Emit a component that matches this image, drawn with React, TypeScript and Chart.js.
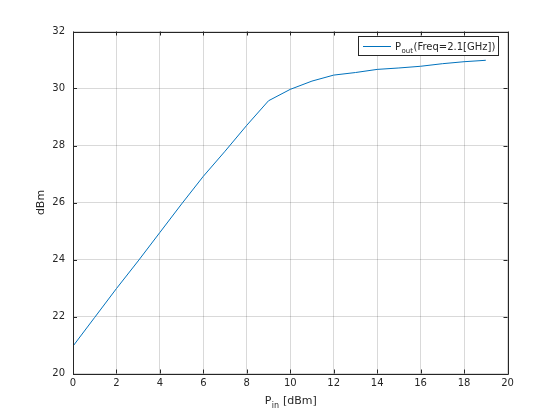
import React, { useEffect, useRef } from 'react';
import { Chart, registerables } from 'chart.js';

Chart.register(...registerables);

const pinValues = [0, 1, 2, 3, 4, 5, 6, 7, 8, 9, 10, 11, 12, 13, 14, 15, 16, 17, 18, 19];
const poutValues = [20.96, 21.97, 22.98, 23.95, 24.95, 25.95, 26.92, 27.8, 28.71, 29.57, 29.97, 30.26, 30.47, 30.56, 30.67, 30.72, 30.78, 30.87, 30.94, 30.99];
const xTickValues = [0, 2, 4, 6, 8, 10, 12, 14, 16, 18, 20];
const yTickValues = [20, 22, 24, 26, 28, 30, 32];
const legendMain = 'P';
const legendSub = 'out';
const legendRest = '(Freq=2.1[GHz])';
const xTitleMain = 'P';
const xTitleSub = 'in';
const xTitleRest = ' [dBm]';
const yTitle = 'dBm';

const FONT = '"DejaVu Sans", sans-serif';
const AXIS_COLOR = '#262626';
const LINE_COLOR = '#0072BD';

const decorPlugin = {
  id: 'decor',
  afterDraw(chart: any) {
    const ctx = chart.ctx as CanvasRenderingContext2D;
    const { left, right, top, bottom } = chart.chartArea;
    const xs = chart.scales.x;
    const ys = chart.scales.y;
    ctx.save();
    ctx.strokeStyle = AXIS_COLOR;
    ctx.lineWidth = 1;
    // box
    ctx.beginPath();
    ctx.rect(Math.round(left) + 0.5, Math.round(top) + 0.5, Math.round(right - left), Math.round(bottom - top));
    ctx.stroke();
    // inward ticks
    const tl = 4;
    ctx.beginPath();
    xTickValues.forEach((v) => {
      const px = Math.round(xs.getPixelForValue(v)) + 0.5;
      ctx.moveTo(px, bottom);
      ctx.lineTo(px, bottom - tl);
      ctx.moveTo(px, top);
      ctx.lineTo(px, top + tl);
    });
    yTickValues.forEach((v) => {
      const py = Math.round(ys.getPixelForValue(v)) + 0.5;
      ctx.moveTo(left, py);
      ctx.lineTo(left + tl, py);
      ctx.moveTo(right, py);
      ctx.lineTo(right - tl, py);
    });
    ctx.stroke();

    // x title with subscript
    ctx.fillStyle = AXIS_COLOR;
    ctx.textBaseline = 'alphabetic';
    ctx.textAlign = 'left';
    const mainFont = '11px ' + FONT;
    const subFont = '8px ' + FONT;
    ctx.font = mainFont;
    const wMain = ctx.measureText(xTitleMain).width;
    const wRest = ctx.measureText(xTitleRest).width;
    ctx.font = subFont;
    const wSub = ctx.measureText(xTitleSub).width;
    const total = wMain + wSub + wRest;
    const cx = (left + right) / 2;
    let x0 = cx - total / 2;
    const by = 404;
    ctx.font = mainFont;
    ctx.fillText(xTitleMain, x0, by);
    ctx.font = subFont;
    ctx.fillText(xTitleSub, x0 + wMain + 0.5, by + 4);
    ctx.font = mainFont;
    ctx.fillText(xTitleRest, x0 + wMain + wSub + 1, by);

    // y title
    ctx.save();
    ctx.translate(44, (top + bottom) / 2);
    ctx.rotate(-Math.PI / 2);
    ctx.textAlign = 'center';
    ctx.font = mainFont;
    ctx.fillText(yTitle, 0, 0);
    ctx.restore();

    // legend
    const lx0 = 358.5, ly0 = 36.5, lx1 = 498.5, ly1 = 55.5;
    ctx.fillStyle = '#ffffff';
    ctx.fillRect(lx0, ly0, lx1 - lx0, ly1 - ly0);
    ctx.strokeStyle = AXIS_COLOR;
    ctx.strokeRect(lx0, ly0, lx1 - lx0, ly1 - ly0);
    ctx.strokeStyle = LINE_COLOR;
    ctx.beginPath();
    ctx.moveTo(363, 46.5);
    ctx.lineTo(391, 46.5);
    ctx.stroke();
    ctx.fillStyle = AXIS_COLOR;
    const legFont = '10px ' + FONT;
    const legSub = '7px ' + FONT;
    ctx.font = legFont;
    const lwMain = ctx.measureText(legendMain).width;
    ctx.font = legSub;
    const lwSub = ctx.measureText(legendSub).width;
    let tx = 395;
    const ty = 50;
    ctx.font = legFont;
    ctx.fillText(legendMain, tx, ty);
    ctx.font = legSub;
    ctx.fillText(legendSub, tx + lwMain + 0.5, ty + 3);
    ctx.font = legFont;
    ctx.fillText(legendRest, tx + lwMain + lwSub + 1, ty);
    ctx.restore();
  },
};

export default function App() {
  const canvasRef = useRef<HTMLCanvasElement | null>(null);
  useEffect(() => {
    if (!canvasRef.current) return;
    const chart = new Chart(canvasRef.current, {
      type: 'line',
      data: {
        datasets: [
          {
            label: 'Pout(Freq=2.1[GHz])',
            data: pinValues.map((x, i) => ({ x, y: poutValues[i] })),
            borderColor: LINE_COLOR,
            borderWidth: 1,
            pointRadius: 0,
            tension: 0,
            fill: false,
          },
        ],
      },
      options: {
        animation: false,
        responsive: false,
        maintainAspectRatio: false,
        layout: { padding: { left: 0, right: 52.5, top: 31.5, bottom: 0 } },
        plugins: { legend: { display: false }, tooltip: { enabled: false }, title: { display: false } },
        scales: {
          x: {
            type: 'linear',
            min: 0,
            max: 20,
            afterFit: (s: any) => { s.height = 46.5; },
            afterBuildTicks: (s: any) => { s.ticks = xTickValues.map((v) => ({ value: v })); },
            ticks: { color: AXIS_COLOR, font: { family: FONT, size: 10 }, padding: 4, maxRotation: 0, autoSkip: false },
            grid: { color: 'rgba(0,0,0,0.15)', drawTicks: false },
            border: { display: false },
          },
          y: {
            type: 'linear',
            min: 20,
            max: 32,
            afterFit: (s: any) => { s.width = 73; },
            afterBuildTicks: (s: any) => { s.ticks = yTickValues.map((v) => ({ value: v })); },
            ticks: { color: AXIS_COLOR, font: { family: FONT, size: 10 }, padding: 8, autoSkip: false },
            grid: { color: 'rgba(0,0,0,0.15)', drawTicks: false },
            border: { display: false },
          },
        },
      },
      plugins: [decorPlugin],
    });
    return () => chart.destroy();
  }, []);
  return (
    <div style={{ position: 'absolute', left: 0, top: 0, width: 560, height: 420, background: '#fff' }}>
      <canvas ref={canvasRef} width={560} height={420} style={{ width: 560, height: 420 }} />
    </div>
  );
}
